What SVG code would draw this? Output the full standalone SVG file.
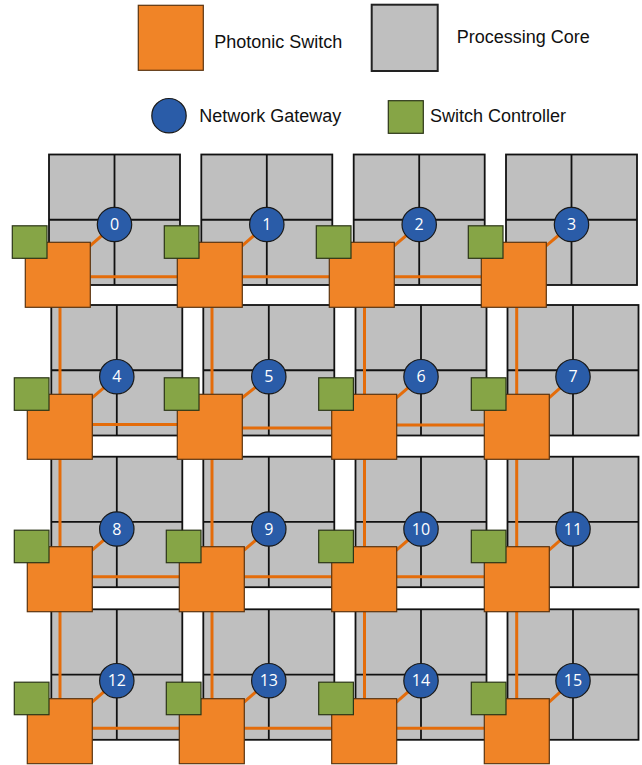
<svg xmlns="http://www.w3.org/2000/svg" xmlns:xlink="http://www.w3.org/1999/xlink" width="642" height="765" viewBox="0 0 642 765">
<style>
.sw{fill:#F08427;stroke:#5a3410;stroke-width:1.2}
.ctl{fill:#86A546;stroke:#2b3517;stroke-width:1.2}
.gw{fill:#2A5CA8;stroke:#1a1a1a;stroke-width:1.2}
.gwt{font-family:"Open Sans","Liberation Sans",sans-serif;font-size:16px;fill:#ffffff;text-anchor:middle}
.core{fill:#BFBFBF;stroke:#111;stroke-width:1.8}
.cl{stroke:#111;stroke-width:1.8}
.lk{stroke:#E46C0A;stroke-width:3;fill:none}
.lg{font-family:"Liberation Sans",Arial,sans-serif;font-size:18px;fill:#111}
</style>
<defs>
<g id="coreT">
<rect class="core" x="0" y="0" width="131" height="130.5"/>
<line class="cl" x1="65.5" y1="0" x2="65.5" y2="130.5"/>
<line class="cl" x1="0" y1="65.25" x2="131" y2="65.25"/>
</g>
</defs>
<rect width="642" height="765" fill="#ffffff"/>

<g id="legend">
<rect class="sw" x="138.3" y="5.3" width="65" height="65"/>
<text class="lg" x="214.3" y="47.7">Photonic Switch</text>
<rect x="371.7" y="4.7" width="66" height="66.3" fill="#BFBFBF" stroke="#222" stroke-width="2"/>
<text class="lg" x="456.7" y="43.3">Processing Core</text>
<circle class="gw" cx="169" cy="115.7" r="17.2"/>
<text class="lg" x="199.3" y="121.7">Network Gateway</text>
<rect class="ctl" x="388.3" y="100.7" width="35" height="32.6"/>
<text class="lg" x="430" y="121.7">Switch Controller</text>
</g>

<g id="cores">
<use id="core-0" xlink:href="#coreT" x="49" y="154.5"/>
<use id="core-1" xlink:href="#coreT" x="201.3" y="154.5"/>
<use id="core-2" xlink:href="#coreT" x="353.7" y="154.5"/>
<use id="core-3" xlink:href="#coreT" x="506" y="154.5"/>
<use id="core-4" xlink:href="#coreT" x="51.3" y="305"/>
<use id="core-5" xlink:href="#coreT" x="203.3" y="305"/>
<use id="core-6" xlink:href="#coreT" x="355.5" y="305"/>
<use id="core-7" xlink:href="#coreT" x="507.5" y="305"/>
<use id="core-8" xlink:href="#coreT" x="51.3" y="456.7"/>
<use id="core-9" xlink:href="#coreT" x="203.3" y="456.7"/>
<use id="core-10" xlink:href="#coreT" x="355.5" y="456.7"/>
<use id="core-11" xlink:href="#coreT" x="507.5" y="456.7"/>
<use id="core-12" xlink:href="#coreT" x="51.3" y="609.3"/>
<use id="core-13" xlink:href="#coreT" x="203.3" y="609.3"/>
<use id="core-14" xlink:href="#coreT" x="355.5" y="609.3"/>
<use id="core-15" xlink:href="#coreT" x="507.5" y="609.3"/>
</g>

<g id="connectors" class="lk">
<line x1="90.3" y1="276.7" x2="177.3" y2="276.7"/>
<line x1="242.3" y1="276.7" x2="329.3" y2="276.7"/>
<line x1="394.3" y1="276.7" x2="481.3" y2="276.7"/>
<line x1="92.3" y1="424.5" x2="177.3" y2="424.5"/>
<line x1="242.3" y1="428" x2="331.7" y2="428"/>
<line x1="396.7" y1="425" x2="484.3" y2="425"/>
<line x1="92.3" y1="576.7" x2="179.3" y2="576.7"/>
<line x1="244.3" y1="576.7" x2="331.7" y2="576.7"/>
<line x1="396.7" y1="576.7" x2="484.3" y2="576.7"/>
<line x1="92.3" y1="728.3" x2="179.3" y2="728.3"/>
<line x1="244.3" y1="728.3" x2="331.7" y2="728.3"/>
<line x1="396.7" y1="728.3" x2="484.3" y2="728.3"/>
<line x1="60" y1="307.3" x2="60" y2="394.3"/>
<line x1="60" y1="459.3" x2="60" y2="546.7"/>
<line x1="60" y1="611.3" x2="60" y2="698.7"/>
<line x1="212" y1="307.3" x2="212" y2="394.3"/>
<line x1="212" y1="459.3" x2="212" y2="546.7"/>
<line x1="212" y1="611.3" x2="212" y2="698.7"/>
<line x1="364.5" y1="307.3" x2="364.5" y2="394.3"/>
<line x1="364.5" y1="459.3" x2="364.5" y2="546.7"/>
<line x1="364.5" y1="611.3" x2="364.5" y2="698.7"/>
<line x1="516.7" y1="307.3" x2="516.7" y2="394.3"/>
<line x1="516.7" y1="459.3" x2="516.7" y2="546.7"/>
<line x1="516.7" y1="611.3" x2="516.7" y2="698.7"/>
<line x1="88.3" y1="247.3" x2="114.5" y2="224.5"/>
<line x1="240.3" y1="247.3" x2="266.8" y2="224.5"/>
<line x1="392.3" y1="247.3" x2="419.2" y2="224.5"/>
<line x1="544.3" y1="247.3" x2="571.5" y2="224.5"/>
<line x1="90.3" y1="399.3" x2="116.8" y2="376.7"/>
<line x1="240.3" y1="399.3" x2="268.8" y2="376.7"/>
<line x1="394.7" y1="399.3" x2="421" y2="376.7"/>
<line x1="547.3" y1="399.3" x2="573" y2="376.7"/>
<line x1="90.3" y1="551.7" x2="116.8" y2="529"/>
<line x1="242.3" y1="551.7" x2="268.8" y2="529"/>
<line x1="394.7" y1="551.7" x2="421" y2="529"/>
<line x1="547.3" y1="551.7" x2="573" y2="529"/>
<line x1="90.3" y1="703.7" x2="116.8" y2="680.7"/>
<line x1="242.3" y1="703.7" x2="268.8" y2="680.7"/>
<line x1="394.7" y1="703.7" x2="421" y2="680.7"/>
<line x1="547.3" y1="703.7" x2="573" y2="680.7"/>
</g>

<g id="node-0"><rect class="sw" x="25.3" y="242.3" width="65" height="65"/><rect class="ctl" x="12.3" y="225.8" width="34.7" height="32.5"/><circle class="gw" cx="114.5" cy="224.5" r="17.2"/><text class="gwt" x="114.5" y="230.2">0</text></g>
<g id="node-1"><rect class="sw" x="177.3" y="242.3" width="65" height="65"/><rect class="ctl" x="164.3" y="225.8" width="34.7" height="32.5"/><circle class="gw" cx="266.8" cy="224.5" r="17.2"/><text class="gwt" x="266.8" y="230.2">1</text></g>
<g id="node-2"><rect class="sw" x="329.3" y="242.3" width="65" height="65"/><rect class="ctl" x="316.3" y="225.8" width="34.7" height="32.5"/><circle class="gw" cx="419.2" cy="224.5" r="17.2"/><text class="gwt" x="419.2" y="230.2">2</text></g>
<g id="node-3"><rect class="sw" x="481.3" y="242.3" width="65" height="65"/><rect class="ctl" x="468.3" y="225.8" width="34.7" height="32.5"/><circle class="gw" cx="571.5" cy="224.5" r="17.2"/><text class="gwt" x="571.5" y="230.2">3</text></g>

<g id="node-4"><rect class="sw" x="27.3" y="394.3" width="65" height="65"/><rect class="ctl" x="14.3" y="377.8" width="34.7" height="32.5"/><circle class="gw" cx="116.8" cy="376.7" r="17.2"/><text class="gwt" x="116.8" y="382.4">4</text></g>
<g id="node-5"><rect class="sw" x="177.3" y="394.3" width="65" height="65"/><rect class="ctl" x="164.3" y="377.8" width="34.7" height="32.5"/><circle class="gw" cx="268.8" cy="376.7" r="17.2"/><text class="gwt" x="268.8" y="382.4">5</text></g>
<g id="node-6"><rect class="sw" x="331.7" y="394.3" width="65" height="65"/><rect class="ctl" x="318.7" y="377.8" width="34.7" height="32.5"/><circle class="gw" cx="421" cy="376.7" r="17.2"/><text class="gwt" x="421" y="382.4">6</text></g>
<g id="node-7"><rect class="sw" x="484.3" y="394.3" width="65" height="65"/><rect class="ctl" x="471.3" y="377.8" width="34.7" height="32.5"/><circle class="gw" cx="573" cy="376.7" r="17.2"/><text class="gwt" x="573" y="382.4">7</text></g>

<g id="node-8"><rect class="sw" x="27.3" y="546.7" width="65" height="65"/><rect class="ctl" x="14.3" y="530.2" width="34.7" height="32.5"/><circle class="gw" cx="116.8" cy="529" r="17.2"/><text class="gwt" x="116.8" y="534.7">8</text></g>
<g id="node-9"><rect class="sw" x="179.3" y="546.7" width="65" height="65"/><rect class="ctl" x="166.3" y="530.2" width="34.7" height="32.5"/><circle class="gw" cx="268.8" cy="529" r="17.2"/><text class="gwt" x="268.8" y="534.7">9</text></g>
<g id="node-10"><rect class="sw" x="331.7" y="546.7" width="65" height="65"/><rect class="ctl" x="318.7" y="530.2" width="34.7" height="32.5"/><circle class="gw" cx="421" cy="529" r="17.2"/><text class="gwt" x="421" y="534.7">10</text></g>
<g id="node-11"><rect class="sw" x="484.3" y="546.7" width="65" height="65"/><rect class="ctl" x="471.3" y="530.2" width="34.7" height="32.5"/><circle class="gw" cx="573" cy="529" r="17.2"/><text class="gwt" x="573" y="534.7">11</text></g>

<g id="node-12"><rect class="sw" x="27.3" y="698.7" width="65" height="65"/><rect class="ctl" x="14.3" y="682.2" width="34.7" height="32.5"/><circle class="gw" cx="116.8" cy="680.7" r="17.2"/><text class="gwt" x="116.8" y="686.4">12</text></g>
<g id="node-13"><rect class="sw" x="179.3" y="698.7" width="65" height="65"/><rect class="ctl" x="166.3" y="682.2" width="34.7" height="32.5"/><circle class="gw" cx="268.8" cy="680.7" r="17.2"/><text class="gwt" x="268.8" y="686.4">13</text></g>
<g id="node-14"><rect class="sw" x="331.7" y="698.7" width="65" height="65"/><rect class="ctl" x="318.7" y="682.2" width="34.7" height="32.5"/><circle class="gw" cx="421" cy="680.7" r="17.2"/><text class="gwt" x="421" y="686.4">14</text></g>
<g id="node-15"><rect class="sw" x="484.3" y="698.7" width="65" height="65"/><rect class="ctl" x="471.3" y="682.2" width="34.7" height="32.5"/><circle class="gw" cx="573" cy="680.7" r="17.2"/><text class="gwt" x="573" y="686.4">15</text></g>
</svg>
